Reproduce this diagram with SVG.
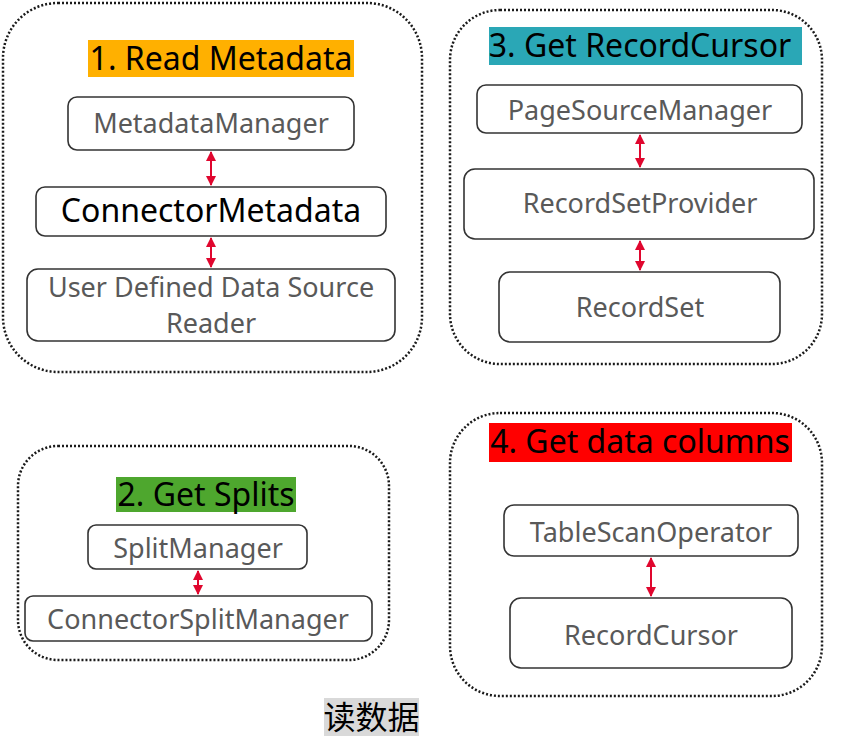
<svg xmlns="http://www.w3.org/2000/svg" width="866" height="744" viewBox="0 0 866 744">
<defs>
<style>
.grp{fill:none;stroke:#1a1a1a;stroke-width:2.5;stroke-dasharray:2 2}
.box{fill:#fff;stroke:#333;stroke-width:1.6}
.t{font-family:"Noto Sans","Open Sans","Liberation Sans",sans-serif;text-anchor:middle}
.g{fill:#595959;font-size:27px}
.title{fill:#000;font-size:32px}
.conn{stroke:#e0062e;stroke-width:2;fill:none;marker-start:url(#ah);marker-end:url(#ah)}
</style>
<marker id="ah" viewBox="0 0 10 10" refX="9" refY="5" markerWidth="5" markerHeight="5" orient="auto-start-reverse" markerUnits="strokeWidth">
<path d="M0,0 L10,5 L0,10 z" fill="#e0062e"/>
</marker>
</defs>
<rect width="866" height="744" fill="#fff"/>

<g id="group1">
<rect class="grp" x="3" y="3" width="419" height="369" rx="55"/>
<rect x="88" y="40" width="266" height="37" fill="#ffb000"/>
<text class="t title" x="221" y="70">1. Read Metadata</text>
</g>
<g id="n-metadatamanager">
<rect class="box" x="68" y="97" width="286" height="53" rx="9"/>
<text class="t g" x="211" y="133">MetadataManager</text>
</g>
<g id="n-connectormetadata">
<rect class="box" x="36" y="187" width="350" height="49" rx="9"/>
<text class="t" x="211" y="222" font-size="32" fill="#000">ConnectorMetadata</text>
</g>
<g id="n-userdefined">
<rect class="box" x="27" y="269" width="368" height="72" rx="11"/>
<text class="t g" x="211" y="297">User Defined Data Source</text>
<text class="t g" x="211" y="333">Reader</text>
</g>

<g id="group3">
<rect class="grp" x="450" y="10" width="372" height="354" rx="50"/>
<rect x="489" y="27" width="313" height="38" fill="#2aa7b6"/>
<text class="t title" x="640" y="57">3. Get RecordCursor</text>
</g>
<g id="n-pagesourcemanager">
<rect class="box" x="477" y="85" width="325" height="48" rx="9"/>
<text class="t g" x="640" y="120">PageSourceManager</text>
</g>
<g id="n-recordsetprovider">
<rect class="box" x="464" y="169" width="350" height="70" rx="11"/>
<text class="t g" x="640" y="213">RecordSetProvider</text>
</g>
<g id="n-recordset">
<rect class="box" x="499" y="272" width="281" height="70" rx="11"/>
<text class="t g" x="640" y="317">RecordSet</text>
</g>

<g id="group2">
<rect class="grp" x="18" y="446" width="371" height="214" rx="40"/>
<rect x="116" y="477" width="180" height="35" fill="#4ea72e"/>
<text class="t title" x="206" y="506">2. Get Splits</text>
</g>
<g id="n-splitmanager">
<rect class="box" x="88" y="525" width="219" height="44" rx="8"/>
<text class="t g" x="198" y="558">SplitManager</text>
</g>
<g id="n-connectorsplitmanager">
<rect class="box" x="25" y="596" width="347" height="45" rx="8"/>
<text class="t g" x="198" y="629">ConnectorSplitManager</text>
</g>

<g id="group4">
<rect class="grp" x="450" y="413" width="372" height="283" rx="50"/>
<rect x="489" y="423" width="303" height="39" fill="#ff0000"/>
<text class="t title" x="640" y="453">4. Get data columns</text>
</g>
<g id="n-tablescanoperator">
<rect class="box" x="504" y="505" width="294" height="51" rx="10"/>
<text class="t g" x="651" y="542">TableScanOperator</text>
</g>
<g id="n-recordcursor">
<rect class="box" x="510" y="598" width="282" height="70" rx="11"/>
<text class="t g" x="651" y="645">RecordCursor</text>
</g>

<g id="caption">
<rect x="324" y="698" width="95" height="38" fill="#d9d9d9"/>
<text x="371.5" y="729" font-family="'Noto Sans CJK SC',sans-serif" font-size="32" text-anchor="middle" fill="#000">读数据</text>
</g>

<g id="connectors">
<line class="conn" x1="211" y1="152" x2="211" y2="185"/>
<line class="conn" x1="211" y1="238" x2="211" y2="267"/>
<line class="conn" x1="640" y1="135" x2="640" y2="167"/>
<line class="conn" x1="640" y1="241" x2="640" y2="270"/>
<line class="conn" x1="198" y1="571" x2="198" y2="594"/>
<line class="conn" x1="651" y1="558" x2="651" y2="596"/>
</g>
</svg>
